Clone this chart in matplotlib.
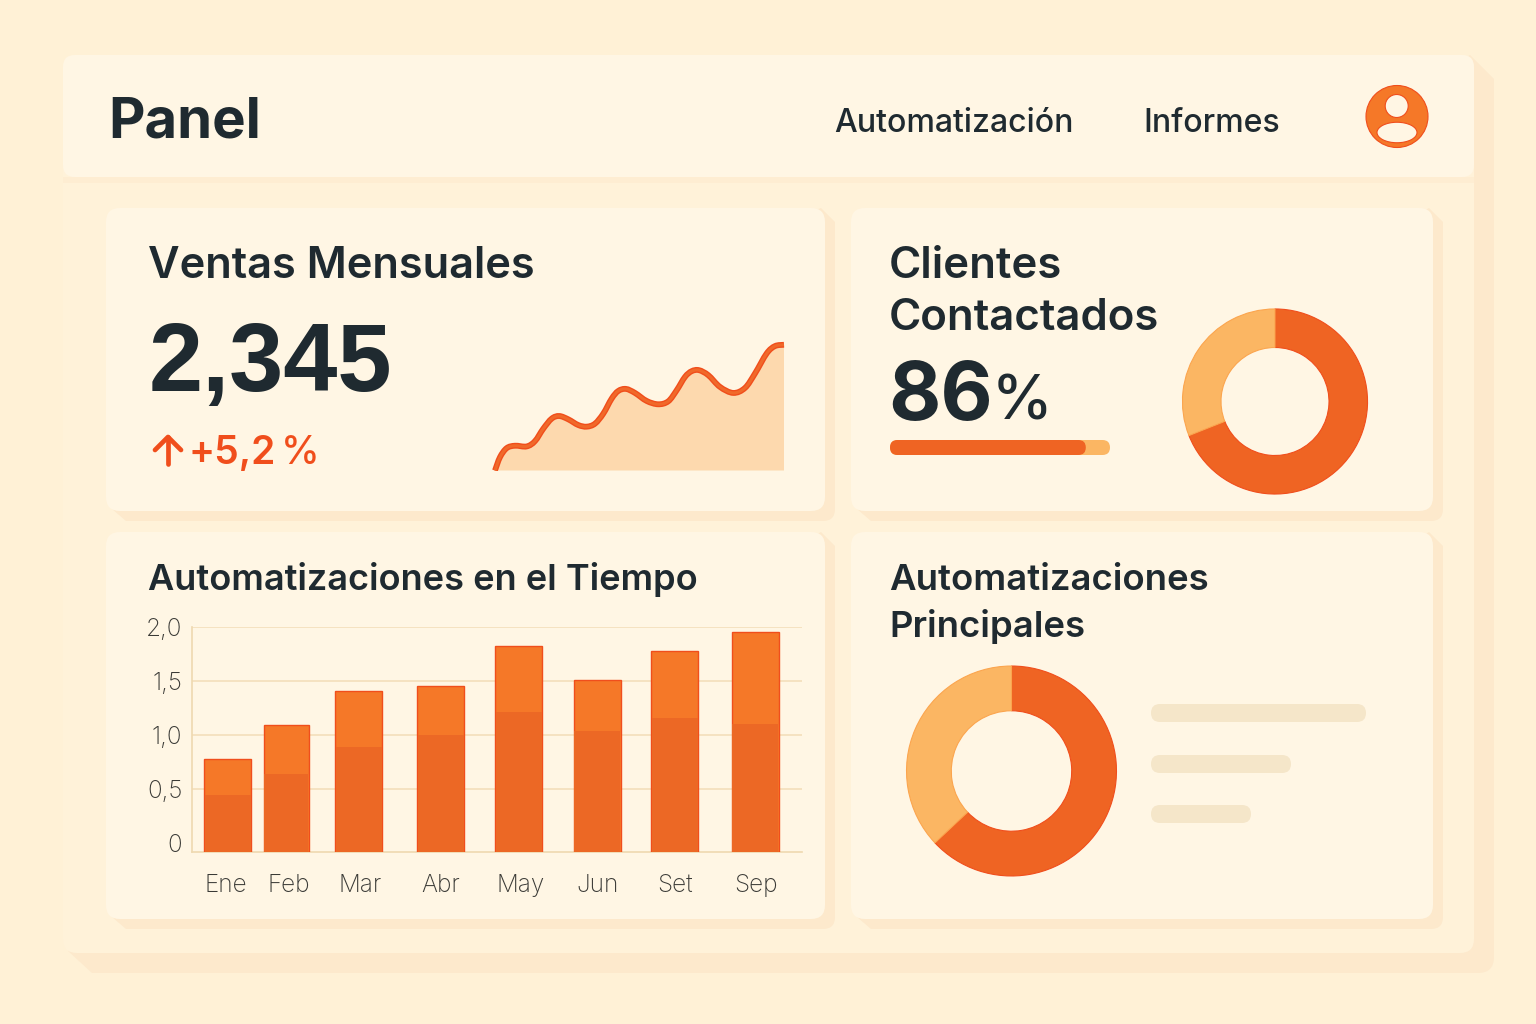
import matplotlib
matplotlib.use("Agg")
import matplotlib.pyplot as plt
import numpy as np
from matplotlib.patches import FancyBboxPatch, Circle, Ellipse, PathPatch, Rectangle
from matplotlib.path import Path

plt.rcParams['font.family'] = ['Inter', 'DejaVu Sans']

# ---- data ----
MONTHS = ["Ene", "Feb", "Mar", "Abr", "May", "Jun", "Set", "Sep"]
BAR_LOWER = [0.44, 0.64, 0.89, 1.00, 1.21, 1.04, 1.16, 1.10]
BAR_TOTAL = [0.78, 1.09, 1.41, 1.45, 1.82, 1.51, 1.78, 1.95]
Y_TICKS = [0, 0.5, 1.0, 1.5, 2.0]
Y_LABELS = ["0", "0,5", "1,0", "1,5", "2,0"]
SALES_T = [15, 20, 26.7, 35, 46.7, 55, 63.3, 71.7, 79.3, 88.3, 98.3, 106.7, 115, 123.3, 131.7, 138.3, 146,
           155, 166.7, 178.3, 188.3, 196.7, 205, 211.7, 219, 228.3, 240, 253.3, 265, 275, 286.7, 295, 304]
SALES_V = [0, 13.3, 22.3, 24.7, 24, 29.3, 41.7, 51.7, 54.3, 51, 45.3, 43.7, 46.7, 56.7, 71.7, 79.3, 81.3,
           77.3, 69.3, 66, 69, 80, 93.3, 99, 100, 95, 83.3, 77.3, 82.3, 96.7, 116.7, 124, 125.3]
CLIENT_SHARES = [69, 31]
TOP_SHARES = [63, 37]
PROGRESS = [0.89]
LEGEND_LENGTHS = [215, 140, 100]

BG = "#FFF1D6"; PANEL = "#FFF2D9"; CARD = "#FFF6E4"; SHADOW = "#FDE9CC"
DARK = "#1F2A30"; ORANGE = "#EF6423"; ORANGE2 = "#F57828"; LIGHT = "#FBB663"; RED = "#F04E1C"

fig = plt.figure(figsize=(15.36, 10.24), dpi=100, facecolor=BG)
W, H = 1536, 1024


def px_axes(l, t, r, b, **kw):
    return fig.add_axes([l / W, 1 - b / H, (r - l) / W, (b - t) / H], **kw)


bg = fig.add_axes([0, 0, 1, 1])
bg.set_xlim(0, W); bg.set_ylim(H, 0); bg.axis("off")


def box(l, t, r, b, fc, rad=14, ax=bg, z=1):
    ax.add_patch(FancyBboxPatch((l + rad, t + rad), r - l - 2 * rad, b - t - 2 * rad,
                                boxstyle=f"round,pad={rad},rounding_size={rad}",
                                fc=fc, ec="none", zorder=z))


def shadow(l, t, r, b, d, rad, z):
    verts = [(r - 4, t), (r + d, t + d + 4), (r + d, b + d - rad), (r + d, b + d), (r + d - rad, b + d),
             (l + d + 4, b + d), (l, b - 2), (r - 4, t)]
    codes = [Path.MOVETO, Path.LINETO, Path.LINETO, Path.CURVE3, Path.CURVE3, Path.LINETO, Path.LINETO, Path.CLOSEPOLY]
    bg.add_patch(PathPatch(Path(verts, codes), fc=SHADOW, ec="none", zorder=z))


shadow(68, 55, 1474, 953, 20, 16, 1)
box(63, 55, 1474, 953, PANEL, 14, z=2)
bg.add_patch(Rectangle((63, 177), 1411, 6, fc="#FEEDD2", ec="none", zorder=3))
box(63, 55, 1474, 177, CARD, 12, z=4)
for (l, t, r, b) in [(106, 208, 825, 511), (851, 208, 1433, 511), (106, 532, 825, 919), (851, 532, 1433, 919)]:
    shadow(l + 6, t, r, b, 10, 12, 5)
    box(l, t, r, b, CARD, 14, z=6)


def T(x, y, s, size, color=DARK, weight="semibold", ha="left", va="baseline", **kw):
    return bg.text(x, y, s, fontsize=size, color=color, fontweight=weight, ha=ha, va=va, zorder=10, **kw)


T(108, 137, "Panel", 40.5, weight="bold")
T(834, 132, "Automatización", 23.1, weight="medium")
T(1143, 132, "Informes", 23.1, weight="medium")
T(148, 278, "Ventas Mensuales", 31.3)
T(149, 391, "2,345", 70, weight="bold", family=["Liberation Sans", "DejaVu Sans"])
T(189, 464, "+5,2", 28, color=RED, weight="semibold")
T(281, 464, "%", 28, color=RED, weight="medium")
bg.plot([168, 168], [464, 437], color=RED, lw=3.4, zorder=10, solid_capstyle="round")
bg.plot([155, 168, 181], [450, 437, 450], color=RED, lw=3.4, zorder=10, solid_capstyle="round", solid_joinstyle="round")
T(889, 278, "Clientes", 31.5)
T(889, 330, "Contactados", 31.5)
T(888, 420, "86", 58, weight="bold")
T(992, 420, "%", 44, weight="medium")
T(148, 590, "Automatizaciones en el Tiempo", 26)
T(889, 590, "Automatizaciones", 26.3)
T(889, 637, "Principales", 26.3)

# user icon
bg.add_patch(Circle((1397, 116.5), 31, fc=ORANGE2, ec=RED, lw=0.8, zorder=10))
bg.add_patch(Circle((1396.7, 106), 11.5, fc=CARD, ec=RED, lw=0.8, zorder=11))
bg.add_patch(Ellipse((1397, 132.5), 40, 20.5, fc=CARD, ec=RED, lw=0.8, zorder=11))


# progress bar
def progress_bar(ax, value):
    ax.set_xlim(0, 1); ax.set_ylim(0, 1); ax.axis("off")
    ax.patch.set_alpha(0)
    ax.add_patch(FancyBboxPatch((0, 0), 1, 1, boxstyle="round,pad=0,rounding_size=0.034", mutation_aspect=14.7,
                                fc=LIGHT, ec="none"))
    ax.add_patch(FancyBboxPatch((0, 0), value, 1, boxstyle="round,pad=0,rounding_size=0.034", mutation_aspect=14.7,
                                fc=ORANGE, ec="none"))


progress_bar(px_axes(890, 440, 1110, 455), PROGRESS[0])

# sparkline
sp = px_axes(480, 320, 800, 470.5)
sp.set_xlim(0, 320); sp.set_ylim(0, 150); sp.axis("off"); sp.patch.set_alpha(0)


def smooth_path(xs, ys, close_base=False):
    P = np.column_stack([xs, ys])
    verts = [P[0]]; codes = [Path.MOVETO]
    for i in range(len(P) - 1):
        p0 = P[max(i - 1, 0)]; p1 = P[i]; p2 = P[i + 1]; p3 = P[min(i + 2, len(P) - 1)]
        verts += [p1 + (p2 - p0) / 6, p2 - (p3 - p1) / 6, p2]
        codes += [Path.CURVE4] * 3
    if close_base:
        verts += [(xs[-1], 0), (xs[0], 0), P[0]]
        codes += [Path.LINETO, Path.LINETO, Path.CLOSEPOLY]
    return Path(verts, codes)


sp.add_patch(PathPatch(smooth_path(SALES_T, SALES_V, True), fc="#FDD9AE", ec="none"))
sp.add_patch(PathPatch(smooth_path(SALES_T, SALES_V), fc="none", ec=RED, lw=4.2, capstyle="butt"))
sp.add_patch(PathPatch(smooth_path(SALES_T, SALES_V), fc="none", ec="#F0692A", lw=2.2, capstyle="butt"))


# donuts
def donut(box_px, shares, inner):
    ax = px_axes(*box_px)
    ax.patch.set_alpha(0)
    wedges, _ = ax.pie(shares, colors=[ORANGE, LIGHT], startangle=90, counterclock=False, radius=0.995,
                       wedgeprops=dict(width=0.995 - inner, linewidth=0.8))
    wedges[0].set_edgecolor(RED)
    wedges[1].set_edgecolor("#FBA54E")
    ax.set_xlim(-1, 1); ax.set_ylim(-1, 1)
    return ax


donut((1182, 308.5, 1368, 494.5), CLIENT_SHARES, 54 / 93)
donut((906, 665, 1117, 877), TOP_SHARES, 60.5 / 106)

# legend placeholder bars
leg = px_axes(1151, 700, 1380, 828)
leg.set_xlim(0, 229); leg.set_ylim(0, 128); leg.invert_yaxis(); leg.axis("off"); leg.patch.set_alpha(0)
for yc, length in zip([13, 64, 114], LEGEND_LENGTHS):
    leg.add_patch(FancyBboxPatch((0, yc - 9), length, 18, boxstyle="round,pad=0,rounding_size=9",
                                 fc="#F5E6C9", ec="none"))

# bar chart
BAR_X = [227.7, 286.3, 358.7, 440.7, 518.7, 597, 674.7, 755]
LABEL_X = [226, 289, 360, 441, 521, 598, 675, 756]
BAR_W = [47, 45, 47, 47, 47, 47, 47, 47]
YMIN = -8.5 / 108  # the axis floor sits just below the "0" tick
ax = px_axes(192, 627, 802, 851.5)
ax.patch.set_alpha(0)
ax.set_xlim(192, 802); ax.set_ylim(YMIN, 2)
lower = np.array(BAR_LOWER); total = np.array(BAR_TOTAL)
ax.bar(BAR_X, total - YMIN, bottom=YMIN, width=BAR_W, color=ORANGE2, edgecolor=RED, linewidth=1, zorder=3)
ax.bar(BAR_X, lower - YMIN, bottom=YMIN, width=[w - 1 for w in BAR_W], color="#EC6825", edgecolor="none", zorder=4)
ax.set_yticks(Y_TICKS); ax.set_yticklabels(Y_LABELS)
ax.set_xticks(LABEL_X); ax.set_xticklabels(MONTHS)
ax.tick_params(axis="both", length=0, labelsize=17.5, labelcolor="#3A3A36")
ax.tick_params(axis="y", pad=7)
ax.tick_params(axis="x", pad=16)
for lab in ax.get_xticklabels() + ax.get_yticklabels():
    lab.set_fontweight("light")
ax.grid(axis="y", color="#F4DFBA", lw=1.2, zorder=0)
ax.yaxis.get_gridlines()[0].set_visible(False)
for s in ["top", "right"]:
    ax.spines[s].set_visible(False)
for s in ["left", "bottom"]:
    ax.spines[s].set_color("#EFD9B0"); ax.spines[s].set_linewidth(1.2)

fig.savefig("out.png", dpi=100, facecolor=BG)
